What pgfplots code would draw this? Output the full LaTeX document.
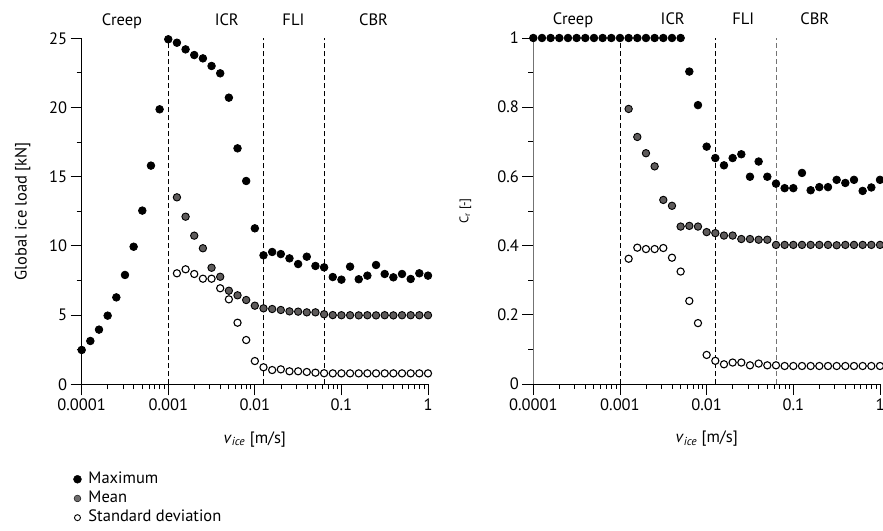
\documentclass[border=0pt]{standalone}
\usepackage{fontspec}
\setmainfont{PT Sans}
\usepackage{pgfplots}
\pgfplotsset{compat=1.18}

\definecolor{meangray}{RGB}{94,91,91}
\definecolor{leggray}{RGB}{110,108,108}

\newcommand{\fs}{\fontsize{16.5}{19}\selectfont}

\tikzset{
  maxs/.style={only marks, mark=*, mark size=3.8pt, mark options={fill=black, draw=black, line width=0.8pt}},
  means/.style={only marks, mark=*, mark size=3.7pt, mark options={fill=meangray, draw=black, line width=0.9pt}},
  stds/.style={only marks, mark=*, mark size=3.6pt, mark options={fill=white, draw=black, line width=1.1pt}},
  dsh/.style={line width=0.9pt, dash pattern=on 5pt off 3pt},
}

\begin{document}
\begin{tikzpicture}
\useasboundingbox (0,0) rectangle (883pt,530pt);

% ---------------- left axis ----------------
\begin{axis}[
  scale only axis, width=346.3pt, height=346pt,
  at={(81.7pt,145.7pt)}, anchor=south west,
  xmode=log, xmin=1e-4, xmax=1,
  ymin=0, ymax=25, ytick={0,5,10,15,20,25}, minor y tick num=1,
  axis x line*=bottom, axis y line*=left,
  xtick={1e-4,1e-3,1e-2,1e-1,1},
  xticklabels={0.0001,0.001,0.01,0.1,1},
  minor xtick={2e-4,3e-4,4e-4,5e-4,6e-4,7e-4,8e-4,9e-4,
               2e-3,3e-3,4e-3,5e-3,6e-3,7e-3,8e-3,9e-3,
               2e-2,3e-2,4e-2,5e-2,6e-2,7e-2,8e-2,9e-2,
               0.2,0.3,0.4,0.5,0.6,0.7,0.8,0.9},
  tick align=outside,
  major tick length=11pt, minor tick length=5pt,
  every tick/.append style={black, line width=0.8pt},
  axis line style={line width=0.9pt},
  tick label style={font=\fs},
  /pgf/number format/assume math mode=true,
  clip=false,
  xlabel={\textit{v}\textsubscript{\textit{ice}} [m/s]},
  xlabel style={font=\fs, at={(rel axis cs:0.5,-0.1697)}, anchor=base},
  ylabel={Global ice load [kN]},
  ylabel style={font=\fs, at={(rel axis cs:-0.1588,0.5)}, anchor=base},
  legend style={at={(rel axis cs:-0.0243,-0.2486)}, anchor=north west, draw=none, fill=none,
     font=\fs, inner sep=0pt, row sep=1.7pt,
     nodes={inner sep=1pt, text height=12pt, text depth=3.5pt},
     /tikz/every odd column/.style={column sep=6pt}},
  legend cell align=left,
]
\addlegendimage{only marks, mark=*, mark size=4pt, mark options={fill=black, draw=none}}
\addlegendentry{Maximum}
\addlegendimage{only marks, mark=*, mark size=3.4pt, mark options={fill=leggray, draw=none}}
\addlegendentry{Mean}
\addlegendimage{only marks, mark=*, mark size=3pt, mark options={fill=white, draw=black, line width=0.9pt}}
\addlegendentry{Standard deviation}

\addplot[dsh, black, forget plot] coordinates {(0.001,0) (0.001,25)};
\addplot[dsh, black, forget plot] coordinates {(0.0125893,0) (0.0125893,25)};
\addplot[dsh, black, forget plot] coordinates {(0.0630957,0) (0.0630957,25)};

\addplot[maxs, forget plot] coordinates {
(1.0000e-4,2.48) (1.2589e-4,3.13) (1.5849e-4,3.95) (1.9953e-4,4.96) (2.5119e-4,6.28)
(3.1623e-4,7.90) (3.9811e-4,9.94) (5.0119e-4,12.55) (6.3096e-4,15.80) (7.9433e-4,19.87)
(1.0000e-3,24.93) (1.2589e-3,24.68) (1.5849e-3,24.20) (1.9953e-3,23.79) (2.5119e-3,23.55)
(3.1623e-3,23.00) (3.9811e-3,22.47) (5.0119e-3,20.71) (6.3096e-3,17.05) (7.9433e-3,14.69)
(1.0000e-2,11.27) (1.2589e-2,9.32) (1.5849e-2,9.56) (1.9953e-2,9.41) (2.5119e-2,9.10)
(3.1623e-2,8.69) (3.9811e-2,9.22) (5.0119e-2,8.55) (6.3096e-2,8.45) (7.9433e-2,7.75)
(1.0000e-1,7.56) (1.2589e-1,8.50) (1.5849e-1,7.59) (1.9953e-1,7.85) (2.5119e-1,8.62)
(3.1623e-1,7.97) (3.9811e-1,7.73) (5.0119e-1,7.97) (6.3096e-1,7.61) (7.9433e-1,8.02)
(1.0000,7.85)
};

\addplot[means, forget plot] coordinates {
(1.2589e-3,13.51) (1.5849e-3,12.11) (1.9953e-3,10.74) (2.5119e-3,9.83)
(3.1623e-3,8.42) (3.9811e-3,7.77) (5.0119e-3,6.76) (6.3096e-3,6.43) (7.9433e-3,6.09)
(1.0000e-2,5.68) (1.2589e-2,5.49) (1.5849e-2,5.44) (1.9953e-2,5.37) (2.5119e-2,5.27)
(3.1623e-2,5.25) (3.9811e-2,5.20) (5.0119e-2,5.20) (6.3096e-2,5.06) (7.9433e-2,5.00)
(1.0000e-1,4.99) (1.2589e-1,4.99) (1.5849e-1,4.98) (1.9953e-1,4.99) (2.5119e-1,4.98)
(3.1623e-1,4.99) (3.9811e-1,4.98) (5.0119e-1,4.99) (6.3096e-1,4.99) (7.9433e-1,4.99)
(1.0000,4.99)
};

\addplot[stds, forget plot] coordinates {
(1.2589e-3,8.02) (1.5849e-3,8.31) (1.9953e-3,7.97) (2.5119e-3,7.63)
(3.1623e-3,7.63) (3.9811e-3,6.94) (5.0119e-3,6.14) (6.3096e-3,4.45) (7.9433e-3,3.20)
(1.0000e-2,1.68) (1.2589e-2,1.23) (1.5849e-2,1.03) (1.9953e-2,1.08) (2.5119e-2,0.94)
(3.1623e-2,0.94) (3.9811e-2,0.89) (5.0119e-2,0.84) (6.3096e-2,0.80) (7.9433e-2,0.79)
(1.0000e-1,0.79) (1.2589e-1,0.79) (1.5849e-1,0.79) (1.9953e-1,0.79) (2.5119e-1,0.79)
(3.1623e-1,0.79) (3.9811e-1,0.79) (5.0119e-1,0.79) (6.3096e-1,0.79) (7.9433e-1,0.79)
(1.0000,0.79)
};

\node[anchor=base, font=\fs] at (axis cs:0.000292,25.96) {Creep};
\node[anchor=base, font=\fs] at (axis cs:0.00474,25.96) {ICR};
\node[anchor=base, font=\fs] at (axis cs:0.0279,25.96) {FLI};
\node[anchor=base, font=\fs] at (axis cs:0.235,25.96) {CBR};
\end{axis}

% ---------------- right axis ----------------
\begin{axis}[
  scale only axis, width=346.7pt, height=346pt,
  at={(533.3pt,146pt)}, anchor=south west,
  xmode=log, xmin=1e-4, xmax=1,
  ymin=0, ymax=1, ytick={0,0.2,0.4,0.6,0.8,1}, minor y tick num=1,
  axis x line*=bottom, axis y line*=left,
  xtick={1e-4,1e-3,1e-2,1e-1,1},
  xticklabels={0.0001,0.001,0.01,0.1,1},
  minor xtick={2e-4,3e-4,4e-4,5e-4,6e-4,7e-4,8e-4,9e-4,
               2e-3,3e-3,4e-3,5e-3,6e-3,7e-3,8e-3,9e-3,
               2e-2,3e-2,4e-2,5e-2,6e-2,7e-2,8e-2,9e-2,
               0.2,0.3,0.4,0.5,0.6,0.7,0.8,0.9},
  tick align=outside,
  major tick length=11pt, minor tick length=5pt,
  every tick/.append style={black, line width=0.8pt},
  axis line style={line width=0.9pt},
  y axis line style={draw=black!55},
  tick label style={font=\fs},
  /pgf/number format/assume math mode=true,
  clip=false,
  xlabel={\textit{v}\textsubscript{\textit{ice}} [m/s]},
  xlabel style={font=\fs, at={(rel axis cs:0.5,-0.1697)}, anchor=base},
  ylabel={C\textsubscript{r} [-]},
  ylabel style={font=\fontsize{12.5}{14}\selectfont, at={(rel axis cs:-0.1875,0.5)}, anchor=base},
]
\addplot[dsh, black, forget plot] coordinates {(0.001,0) (0.001,1)};
\addplot[dsh, black, forget plot] coordinates {(0.0125893,0) (0.0125893,1)};
\addplot[dsh, black!55, forget plot] coordinates {(0.0630957,0) (0.0630957,1)};

\addplot[maxs, forget plot] coordinates {
(1.0000e-4,1) (1.2589e-4,1) (1.5849e-4,1) (1.9953e-4,1) (2.5119e-4,1)
(3.1623e-4,1) (3.9811e-4,1) (5.0119e-4,1) (6.3096e-4,1) (7.9433e-4,1)
(1.0000e-3,1) (1.2589e-3,1) (1.5849e-3,1) (1.9953e-3,1) (2.5119e-3,1)
(3.1623e-3,1) (3.9811e-3,1) (5.0119e-3,1) (6.3096e-3,0.903) (7.9433e-3,0.806)
(1.0000e-2,0.686) (1.2589e-2,0.653) (1.5849e-2,0.632) (1.9953e-2,0.653) (2.5119e-2,0.664)
(3.1623e-2,0.599) (3.9811e-2,0.643) (5.0119e-2,0.599) (6.3096e-2,0.579) (7.9433e-2,0.566)
(1.0000e-1,0.566) (1.2589e-1,0.610) (1.5849e-1,0.560) (1.9953e-1,0.569) (2.5119e-1,0.569)
(3.1623e-1,0.590) (3.9811e-1,0.581) (5.0119e-1,0.590) (6.3096e-1,0.558) (7.9433e-1,0.568)
(1.0000,0.590)
};

\addplot[means, forget plot] coordinates {
(1.2589e-3,0.795) (1.5849e-3,0.714) (1.9953e-3,0.667) (2.5119e-3,0.629)
(3.1623e-3,0.532) (3.9811e-3,0.515) (5.0119e-3,0.455) (6.3096e-3,0.457) (7.9433e-3,0.455)
(1.0000e-2,0.439) (1.2589e-2,0.436) (1.5849e-2,0.429) (1.9953e-2,0.429) (2.5119e-2,0.419)
(3.1623e-2,0.419) (3.9811e-2,0.417) (5.0119e-2,0.417) (6.3096e-2,0.402) (7.9433e-2,0.402)
(1.0000e-1,0.402) (1.2589e-1,0.402) (1.5849e-1,0.402) (1.9953e-1,0.402) (2.5119e-1,0.402)
(3.1623e-1,0.401) (3.9811e-1,0.402) (5.0119e-1,0.402) (6.3096e-1,0.402) (7.9433e-1,0.402)
(1.0000,0.402)
};

\addplot[stds, forget plot] coordinates {
(1.2589e-3,0.362) (1.5849e-3,0.394) (1.9953e-3,0.390) (2.5119e-3,0.390)
(3.1623e-3,0.393) (3.9811e-3,0.365) (5.0119e-3,0.325) (6.3096e-3,0.240) (7.9433e-3,0.176)
(1.0000e-2,0.084) (1.2589e-2,0.067) (1.5849e-2,0.057) (1.9953e-2,0.062) (2.5119e-2,0.062)
(3.1623e-2,0.054) (3.9811e-2,0.059) (5.0119e-2,0.054) (6.3096e-2,0.054) (7.9433e-2,0.052)
(1.0000e-1,0.052) (1.2589e-1,0.052) (1.5849e-1,0.052) (1.9953e-1,0.052) (2.5119e-1,0.052)
(3.1623e-1,0.052) (3.9811e-1,0.052) (5.0119e-1,0.052) (6.3096e-1,0.052) (7.9433e-1,0.052)
(1.0000,0.052)
};

\node[anchor=base, font=\fs] at (axis cs:0.000288,1.0384) {Creep};
\node[anchor=base, font=\fs] at (axis cs:0.00406,1.0384) {ICR};
\node[anchor=base, font=\fs] at (axis cs:0.0264,1.0384) {FLI};
\node[anchor=base, font=\fs] at (axis cs:0.177,1.0384) {CBR};
\end{axis}
\end{tikzpicture}
\end{document}
